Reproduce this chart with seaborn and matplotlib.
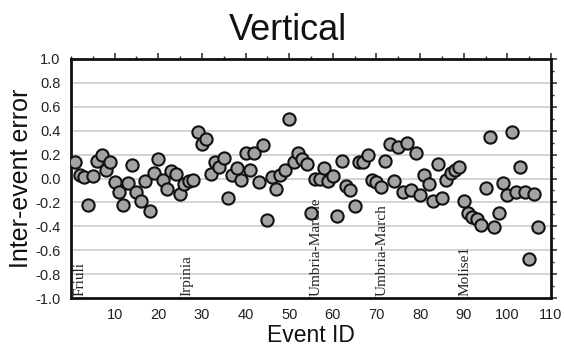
import numpy as np
import pandas as pd
import matplotlib
matplotlib.use("Agg")
import matplotlib.pyplot as plt
from matplotlib.ticker import MultipleLocator, FixedLocator
import seaborn as sns

event_id = list(range(1, 108))
inter_event_error = [
    0.14, 0.03, 0.01, -0.22, 0.02, 0.15, 0.20, 0.07, 0.14, -0.03,
    -0.11, -0.22, -0.04, 0.11, -0.11, -0.19, -0.02, -0.27, 0.05, 0.16,
    -0.01, -0.09, 0.06, 0.04, -0.13, -0.05, -0.02, -0.01, 0.39, 0.29,
    0.33, 0.04, 0.14, 0.10, 0.17, -0.16, 0.03, 0.09, -0.01, 0.21,
    0.07, 0.21, -0.03, 0.28, -0.35, 0.01, -0.09, 0.03, 0.07, 0.50,
    0.14, 0.21, 0.16, 0.12, -0.29, 0.00, 0.00, 0.09, -0.02, 0.02,
    -0.31, 0.15, -0.06, -0.10, -0.23, 0.14, 0.14, 0.20, -0.01, -0.03,
    -0.07, 0.15, 0.29, -0.02, 0.26, -0.11, 0.30, -0.10, 0.21, -0.14,
    0.03, -0.05, -0.19, 0.12, -0.16, -0.01, 0.05, 0.07, 0.10, -0.19,
    -0.29, -0.32, -0.34, -0.39, -0.08, 0.35, -0.41, -0.29, -0.04, -0.14,
    0.39, -0.11, 0.10, -0.11, -0.67, -0.13, -0.41,
]
event_names = ["Friuli", "Irpinia", "Umbria-Marche", "Umbria-March", "Molise1"]
event_name_pos = [2.0, 26.5, 56.2, 71.2, 90.4]
x_ticks = [10, 20, 30, 40, 50, 60, 70, 80, 90, 100, 110]
y_ticks = [-1.0, -0.8, -0.6, -0.4, -0.2, 0.0, 0.2, 0.4, 0.6, 0.8, 1.0]

sns.set_style("white")
plt.rcParams["font.family"] = ["Liberation Sans", "DejaVu Sans"]
plt.rcParams["axes.unicode_minus"] = False

df = pd.DataFrame({"Event ID": event_id, "Inter-event error": inter_event_error})

fig = plt.figure(figsize=(5.64, 3.47), dpi=100)
ax = fig.add_axes([71 / 564, 1 - 298 / 347, 480 / 564, 239 / 347])

for yv in y_ticks[1:-1]:
    ax.axhline(yv, color="#c8c8c8", linewidth=1.1, zorder=0)

for name, xp in zip(event_names, event_name_pos):
    ax.text(xp, -0.985, name, rotation=90, ha="center", va="bottom",
            family=["Liberation Serif", "DejaVu Serif"], fontsize=11,
            color="#222222", zorder=1)

sns.scatterplot(data=df, x="Event ID", y="Inter-event error", ax=ax,
                color="#a3a3a3", edgecolor="#111111", linewidth=1.5, s=78,
                zorder=3, legend=False)

ax.set_xlim(0, 110)
ax.set_ylim(-1.0, 1.0)
ax.xaxis.set_major_locator(FixedLocator(x_ticks))
ax.xaxis.set_minor_locator(MultipleLocator(5))
ax.yaxis.set_major_locator(FixedLocator(y_ticks))
ax.yaxis.set_minor_locator(MultipleLocator(0.1))
ax.set_xticklabels([str(t) for t in x_ticks])
ax.set_yticklabels([f"{t:.1f}" for t in y_ticks])

ax.tick_params(which="major", direction="out", length=4.5, width=1.1,
               top=True, right=True, labelsize=10.5, labelcolor="#222222", pad=3)
ax.tick_params(which="minor", direction="out", length=2.5, width=1.0,
               top=True, right=True)
for sp in ax.spines.values():
    sp.set_visible(True)
    sp.set_linewidth(2.0)
    sp.set_color("#111111")

ax.set_xlabel("Event ID", fontsize=16.5, color="#111111", labelpad=1)
ax.set_ylabel("Inter-event error", fontsize=18, color="#111111", labelpad=2)
fig.text(0.51, 1 - 30 / 347, "Vertical", ha="center", va="center",
         fontsize=26, color="#111111")

fig.savefig("out.png", dpi=100)
